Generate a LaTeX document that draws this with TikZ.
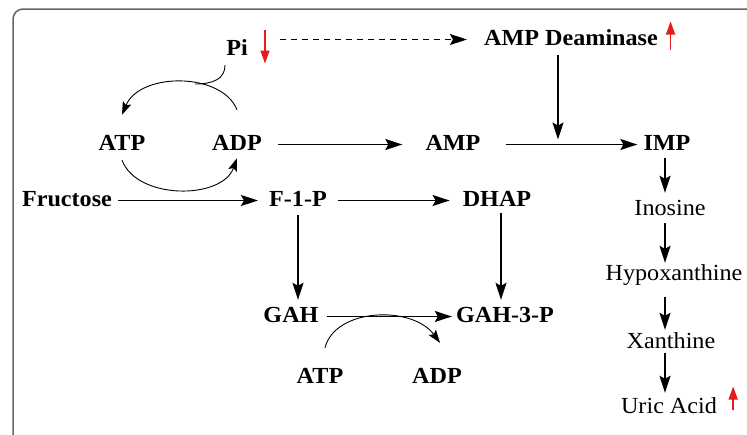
\documentclass[tikz,border=0pt]{standalone}
\usepackage{fontspec}
\setmainfont{Liberation Serif}[FakeStretch=1.05]
\usetikzlibrary{arrows.meta,calc}
\definecolor{upred}{HTML}{E41A1C}
\begin{document}
\begin{tikzpicture}[x=1pt,y=-1pt,
  lbl/.style={inner sep=0pt, anchor=base, text height=15pt, text depth=4pt,
    font=\fontsize{23}{27}\selectfont\bfseries},
  plain/.style={inner sep=0pt, anchor=base, text height=15pt, text depth=4pt,
    font=\fontsize{23}{27}\selectfont},
  arr/.style={line width=1.4pt, -{Stealth[length=17pt,width=11pt,inset=3pt]}},
  carr/.style={line width=0.9pt, -{Stealth[length=13pt,width=9pt,inset=2.5pt]}},
  dasharr/.style={arr, dash pattern=on 6pt off 5pt},
  redarr/.style={draw=upred, line width=1.4pt, -{Triangle[length=13pt,width=9pt]}},
  frame/.style={draw=black!60, line width=1.5pt, rounded corners=10pt}
]
\useasboundingbox (0,0) rectangle (747,434);
\clip (0,0) rectangle (747,434);
\draw[frame] (13,9) rectangle (770,450);

% nodes
\node[lbl] (pi) at (237,55) {Pi};
\node[lbl] (amd) at (571,45) {AMP Deaminase};
\node[lbl] (atp1) at (122,150) {ATP};
\node[lbl] (adp1) at (237,150) {ADP};
\node[lbl] (amp) at (453,150) {AMP};
\node[lbl] (imp) at (667,150) {IMP};
\node[lbl] (fru) at (67,206) {Fructose};
\node[lbl] (f1p) at (298,206) {F-1-P};
\node[lbl] (dhap) at (497,206) {DHAP};
\node[lbl] (gah) at (291,322) {GAH};
\node[lbl] (gah3p) at (505,322) {GAH-3-P};
\node[lbl] (atp2) at (320,383) {ATP};
\node[lbl] (adp2) at (437,383) {ADP};
\node[plain] (ino) at (670,215) {Inosine};
\node[plain] (hyp) at (674,280) {Hypoxanthine};
\node[plain] (xan) at (671,348) {Xanthine};
\node[plain] (uric) at (669,413) {Uric Acid};

\coordinate (col) at (665,0);
\coordinate (join) at (195,84);

% horizontal arrows
\draw[arr, shorten <=6pt, shorten >=11pt] (fru.east) -- (f1p.west);
\draw[arr, shorten <=11pt, shorten >=13pt] (f1p.east) -- (dhap.west);
\draw[arr, shorten <=16pt, shorten >=23pt] (adp1.east) -- (amp.west);
\draw[arr, shorten <=25pt, shorten >=6pt] (amp.east) -- (imp.west);
\draw[arr, shorten <=8pt, shorten >=4pt] (gah.east) -- (gah3p.west);
\draw[dasharr, shorten <=32pt, shorten >=17pt] (pi.east |- amd.west) -- (amd.west);

% vertical arrows
\draw[arr, shorten <=6pt, shorten >=5pt] ([xshift=-13pt]amd.south) -- ([xshift=-13pt]amd.south |- amp.east);
\draw[arr, shorten <=5pt, shorten >=7pt] (f1p.south) -- (f1p.south |- gah.north);
\draw[arr, shorten <=3pt, shorten >=7pt] ([xshift=4pt]dhap.south) -- ([xshift=4pt]dhap.south |- gah3p.north);
\draw[arr, shorten <=4pt, shorten >=7pt] (imp.south -| col) -- (ino.north -| col);
\draw[arr, shorten <=4pt, shorten >=2pt] (ino.south -| col) -- (hyp.north -| col);
\draw[arr, shorten <=13pt, shorten >=3pt] (hyp.south -| col) -- (xan.north -| col);
\draw[arr, shorten <=1pt, shorten >=5pt] (xan.south -| col) -- (uric.north -| col);

% cycles
\draw[carr] ([yshift=25pt]adp1.north) .. controls (222,72) and (140,72) .. ([yshift=20pt]atp1.north);
\draw[line width=0.9pt] ([xshift=-12pt,yshift=-6pt]pi.south) .. controls (225,79) and (213,84) .. (join);
\draw[carr] ([yshift=-6pt]atp1.south) .. controls (137,200) and (222,200) .. ([yshift=-4pt]adp1.south);
\draw[carr] ([xshift=5pt,yshift=20pt]atp2.north) .. controls (335,308) and (412,305) .. ([xshift=3pt,yshift=25pt]adp2.north);

% red indicators
\draw[redarr] ([xshift=28pt,yshift=20pt]pi.center) -- ([xshift=28pt,yshift=-14pt]pi.center);
\draw[redarr] ([xshift=12.5pt,yshift=-10pt]amd.east) -- ([xshift=12.5pt,yshift=18pt]amd.east);
\draw[redarr] ([xshift=16pt,yshift=-2pt]uric.east) -- ([xshift=16pt,yshift=21pt]uric.east);
\end{tikzpicture}
\end{document}
